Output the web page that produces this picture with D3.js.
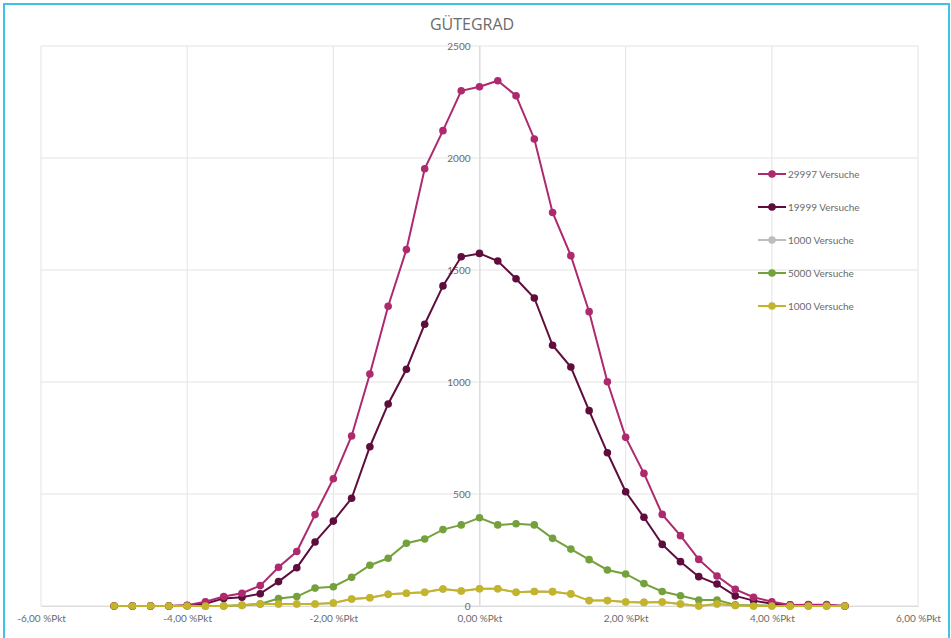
<!DOCTYPE html>
<html><head><meta charset="utf-8">
<script src="https://cdn.jsdelivr.net/npm/d3@7"></script>
<style>body{margin:0;background:#fff;}svg{display:block;font-family:Lato,"Open Sans",sans-serif;}</style>
</head><body>
<svg id="c" width="951" height="638"></svg>
<script>
const xValues = [-5,-4.75,-4.5,-4.25,-4,-3.75,-3.5,-3.25,-3,-2.75,-2.5,-2.25,-2,-1.75,-1.5,-1.25,-1,-0.75,-0.5,-0.25,0,0.25,0.5,0.75,1,1.25,1.5,1.75,2,2.25,2.5,2.75,3,3.25,3.5,3.75,4,4.25,4.5,4.75,5];
const s29997 = [0,0,0,0,3,19,42,57,91,173,243,408,568,759,1036,1338,1591,1952,2122,2300,2318,2345,2278,2085,1757,1564,1314,1001,753,592,409,314,208,134,74,39,19,5,6,6,0];
const s19999 = [0,0,0,0,2,10,34,39,55,109,171,286,379,481,711,902,1057,1258,1429,1559,1574,1540,1461,1375,1164,1067,872,684,510,396,275,198,131,98,45,24,10,5,5,3,0];
const s1000gray = [0,0,0,0,0,0,0,3,9,9,9,9,13,31,37,52,57,61,76,67,77,77,61,65,64,54,24,24,18,16,18,9,0,9,2,0,0,0,0,0,0];
const s5000 = [0,0,0,0,0,0,0,3,9,33,42,80,86,128,182,213,280,299,341,362,394,362,367,362,302,254,207,161,143,100,65,46,27,27,5,3,2,0,0,0,0];
const s1000 = [0,0,0,0,0,0,0,3,9,9,9,9,13,31,37,52,57,61,76,67,77,77,61,65,64,54,24,24,18,16,18,9,0,9,2,0,0,0,0,0,0];
const seriesNames = ["29997 Versuche","19999 Versuche","1000 Versuche","5000 Versuche","1000 Versuche"];
const seriesColors = ["#ad2a6e","#5e0d3c","#bdbdbd","#74a13c","#c4b42a"];
const xTicks = [-6,-4,-2,0,2,4,6];
const xTickLabels = ["-6,00 %Pkt","-4,00 %Pkt","-2,00 %Pkt","0,00 %Pkt","2,00 %Pkt","4,00 %Pkt","6,00 %Pkt"];
const yTicks = [0,500,1000,1500,2000,2500];
const title = "GÜTEGRAD";

const allSeries = [s29997,s19999,s1000gray,s5000,s1000];
const svg = d3.select("#c");
svg.append("rect").attr("x",4).attr("y",4).attr("width",945).attr("height",640)
  .attr("fill","none").attr("stroke","#3fc3e3").attr("stroke-width",2);

const x = d3.scaleLinear().domain([-6,6]).range([41,918]);
const y = d3.scaleLinear().domain([0,2500]).range([606,46]);

const g = svg.append("g");
g.selectAll("line.h").data(yTicks).join("line")
  .attr("x1",x(-6)).attr("x2",x(6)).attr("y1",d=>y(d)).attr("y2",d=>y(d))
  .attr("stroke","#e3e3e3").attr("stroke-width",1);
g.selectAll("line.v").data(xTicks).join("line")
  .attr("x1",d=>x(d)).attr("x2",d=>x(d)).attr("y1",y(0)).attr("y2",y(2500))
  .attr("stroke","#e3e3e3").attr("stroke-width",1);

const xAxis = d3.axisBottom(x).tickValues(xTicks).tickFormat((d,i)=>xTickLabels[i]).tickSize(0).tickPadding(9);
const xg = svg.append("g").attr("transform",`translate(0,${y(0)})`).call(xAxis);
xg.select(".domain").attr("stroke","#d9d9d9");
xg.selectAll("text").attr("fill","#6b6b6b").style("font-size","10px").style("font-family","Lato,sans-serif");

const yAxis = d3.axisLeft(y).tickValues(yTicks).tickFormat(d3.format("d")).tickSize(0).tickPadding(9);
const yg = svg.append("g").attr("transform",`translate(${x(0)},0)`).call(yAxis);
yg.select(".domain").attr("stroke","#d9d9d9");
yg.selectAll("text").attr("fill","#6b6b6b").style("font-size","10px").style("font-family","Lato,sans-serif");

const line = d3.line().x((d,i)=>x(xValues[i])).y(d=>y(d));
const order = [2,3,1,0,4];
order.forEach(si=>{
  const data = allSeries[si];
  const sg = svg.append("g");
  sg.append("path").datum(data).attr("d",line).attr("fill","none")
    .attr("stroke",seriesColors[si]).attr("stroke-width",2);
  sg.selectAll("circle").data(data).join("circle")
    .attr("cx",(d,i)=>x(xValues[i])).attr("cy",d=>y(d)).attr("r",3.8)
    .attr("fill",seriesColors[si]);
});

svg.append("text").attr("x",472).attr("y",30).attr("text-anchor","middle")
  .attr("fill","#6b6b6b").style("font-size","16px").style("font-family","'Open Sans',sans-serif").text(title);

const lg = svg.append("g");
seriesNames.forEach((n,i)=>{
  const ly = 174 + i*33;
  lg.append("line").attr("x1",758).attr("x2",786).attr("y1",ly).attr("y2",ly)
    .attr("stroke",seriesColors[i]).attr("stroke-width",2);
  lg.append("circle").attr("cx",772).attr("cy",ly).attr("r",3.8).attr("fill",seriesColors[i]);
  lg.append("text").attr("x",788).attr("y",ly+3.5).attr("fill","#6b6b6b")
    .style("font-size","10px").style("font-family","Lato,sans-serif").text(n);
});
</script>
</body></html>
